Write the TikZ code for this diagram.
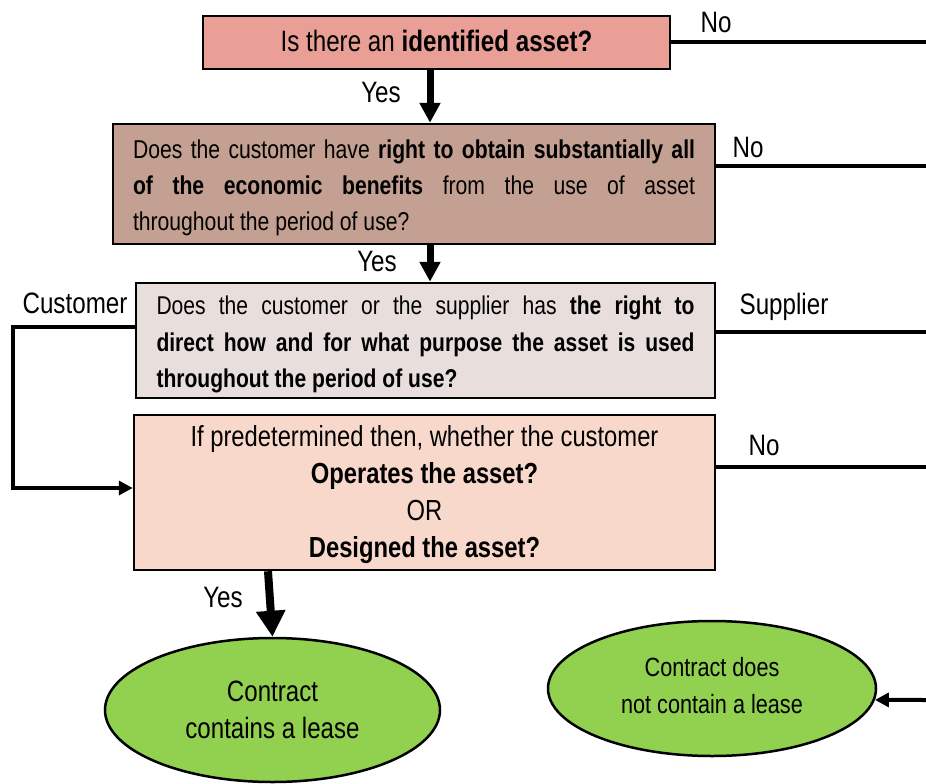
\documentclass[tikz,border=0pt]{standalone}
\usepackage{fontspec}
\setmainfont{Liberation Sans}[FakeStretch=0.82]
\usetikzlibrary{arrows.meta,shapes.geometric}

\definecolor{qone}{RGB}{233,158,150}
\definecolor{qtwo}{RGB}{196,160,146}
\definecolor{qthree}{RGB}{232,222,220}
\definecolor{qfour}{RGB}{248,216,203}
\definecolor{endgreen}{RGB}{146,208,80}

% invisible struts used to balance the text block inside its shape
\newcommand{\topstrut}[1]{\rule{0pt}{#1}}
\newcommand{\botstrut}[1]{\rule[-#1]{0pt}{#1}}

\begin{document}
\begin{tikzpicture}[x=1pt,y=-1pt,
  box/.style={draw=black,line width=2.5pt,inner sep=0pt,anchor=center},
  endnode/.style={ellipse,draw=black,line width=2.5pt,fill=endgreen,inner sep=0pt,align=center},
  flow/.style={line width=4pt},
  thinarrow/.style={line width=4pt,-{Triangle[width=14pt,length=14pt]}},
  yesarrow/.style={line width=7pt,-{Triangle[width=20pt,length=20pt]}},
  bigarrow/.style={line width=8pt,-{Triangle[width=28pt,length=26pt]}},
  lbl/.style={inner sep=0pt,font=\fontsize{29.5}{32}\selectfont}]
\useasboundingbox (0,0) rectangle (926,784);

% decision boxes
\node[box,fill=qone,minimum width=467pt,minimum height=53pt,
  font=\fontsize{29.5}{34}\selectfont] (b1) at (436.5,42.5)
  {Is there an \textbf{identified asset?}\botstrut{4pt}};

\node[box,fill=qtwo,minimum width=602pt,minimum height=120pt,
  text width=562pt,align=justify,font=\fontsize{25.8}{36}\selectfont] (b2) at (414,184)
  {\topstrut{27pt}Does the customer have \textbf{right to obtain substantially all}\linebreak
   \textbf{of the economic benefits} from the use of asset\linebreak
   throughout the period of use?};

\node[box,fill=qthree,minimum width=579pt,minimum height=115pt,
  text width=538pt,align=justify,font=\fontsize{25.7}{36.5}\selectfont] (b3) at (425.5,340.5)
  {\topstrut{27pt}Does the customer or the supplier has \textbf{the right to}\linebreak
   \textbf{direct how and for what purpose the asset is used}\linebreak
   \textbf{throughout the period of use?}};

\node[box,fill=qfour,minimum width=581pt,minimum height=155pt,
  align=center,font=\fontsize{29}{37}\selectfont] (b4) at (424.5,492.5)
  {\topstrut{26pt}If predetermined then, whether the customer\\
   \textbf{Operates the asset?}\\
   OR\\
   \textbf{Designed the asset?}};

% outcomes
\node[endnode,minimum width=335pt,minimum height=144pt,
  font=\fontsize{29.4}{37}\selectfont] (e1) at (272.5,710)
  {Contract\\contains a lease};
\node[endnode,minimum width=328pt,minimum height=135pt,
  font=\fontsize{26.4}{37}\selectfont] (e2) at (712,688.5)
  {Contract does\\not contain a lease\botstrut{6pt}};

% helper coordinates
\coordinate (ax) at (430,0);
\coordinate (ay) at (268,0);
\coordinate (r1) at (926,42);
\coordinate (r2) at (926,166);
\coordinate (r3) at (926,332);
\coordinate (r4) at (926,467);
\coordinate (r5) at (926,700);
\coordinate (cy) at (0,327);
\coordinate (cl) at (13,327);
\coordinate (cl2) at (13,488);

% Yes path
\draw[yesarrow] (b1.south -| ax) -- (b2.north -| ax);
\draw[yesarrow] (b2.south -| ax) -- (b3.north -| ax);
\draw[bigarrow] (b4.south -| ay) -- (e1.north);

% No / Supplier exits to the right
\draw[flow] (b1.east |- r1) -- (r1);
\draw[flow] (b2.east |- r2) -- (r2);
\draw[flow] (b3.east |- r3) -- (r3);
\draw[flow] (b4.east |- r4) -- (r4);
\draw[thinarrow] (r5) -- (e2.-4.3);

% Customer loop
\draw[thinarrow,line width=3.5pt] (b3.west |- cy) -- (cl) -- (cl2) -- (b4.west |- cl2);

% labels
\node[lbl] (n1) at (716,22) {No};
\node[lbl] (y1) at (381,92) {Yes};
\node[lbl] (n2) at (748,147) {No};
\node[lbl] (y2) at (377,261) {Yes};
\node[lbl] (cu) at (75,303) {Customer};
\node[lbl] (su) at (784,307) {Supplier};
\node[lbl] (n3) at (764,445) {No};
\node[lbl] (y3) at (223,597) {Yes};
\end{tikzpicture}
\end{document}
